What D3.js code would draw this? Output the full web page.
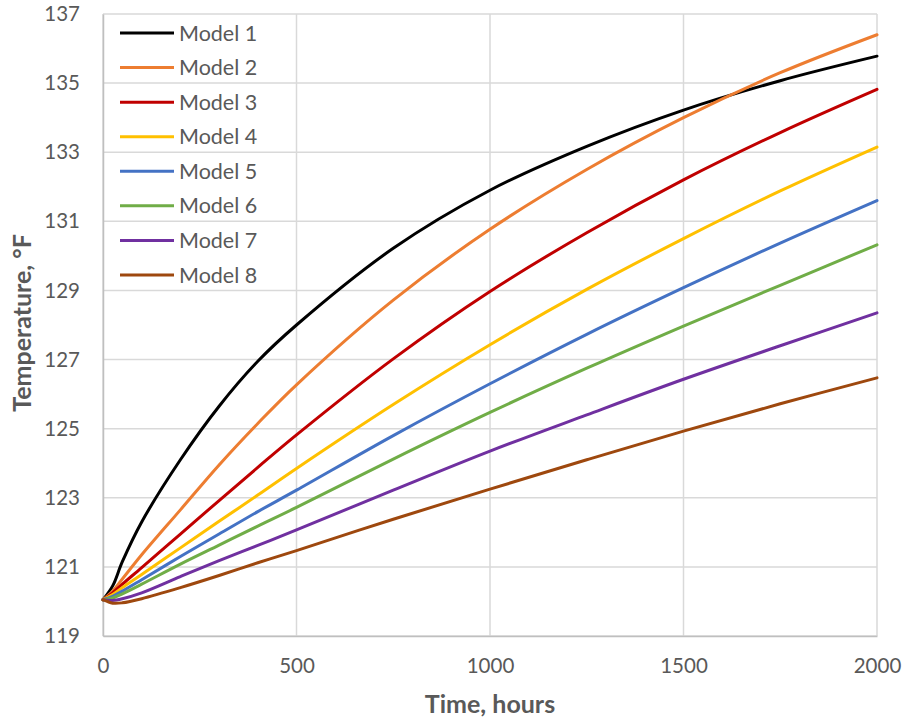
<!DOCTYPE html>
<html>
<head>
<meta charset="utf-8">
<script src="https://cdn.jsdelivr.net/npm/d3@7"></script>
<style>
  body { margin: 0; background: #fff; }
  svg text { font-family: Lato, "Open Sans", sans-serif; fill: #595959; }
</style>
</head>
<body>
<svg id="chart" width="904" height="721"></svg>
<script>
// hours since start
const hours = [0, 25, 50, 100, 200, 300, 400, 500, 750, 1000, 1250, 1500, 1750, 2000];

// temperature, degF, one list per model
const model1 = [120.05, 120.45, 121.15, 122.3, 124.1, 125.65, 126.95, 128.0, 130.22, 131.9, 133.17, 134.22, 135.07, 135.78];
const model2 = [120.05, 120.3, 120.65, 121.35, 122.65, 123.95, 125.15, 126.27, 128.72, 130.77, 132.5, 134.0, 135.3, 136.4];
const model3 = [120.05, 120.25, 120.5, 120.98, 121.95, 122.92, 123.88, 124.82, 127.02, 128.97, 130.67, 132.2, 133.57, 134.82];
const model4 = [120.05, 120.2, 120.4, 120.78, 121.55, 122.32, 123.08, 123.85, 125.7, 127.43, 129.03, 130.5, 131.88, 133.15];
const model5 = [120.05, 120.15, 120.3, 120.63, 121.3, 121.95, 122.6, 123.22, 124.8, 126.3, 127.73, 129.08, 130.37, 131.6];
const model6 = [120.05, 120.1, 120.22, 120.5, 121.08, 121.63, 122.18, 122.72, 124.12, 125.47, 126.75, 127.97, 129.15, 130.32];
const model7 = [120.05, 120.03, 120.08, 120.25, 120.72, 121.18, 121.62, 122.07, 123.22, 124.35, 125.4, 126.43, 127.4, 128.35];
const model8 = [120.05, 119.95, 119.96, 120.08, 120.4, 120.75, 121.12, 121.47, 122.38, 123.25, 124.1, 124.93, 125.72, 126.47];

const seriesNames = ["Model 1", "Model 2", "Model 3", "Model 4", "Model 5", "Model 6", "Model 7", "Model 8"];
const seriesValues = [model1, model2, model3, model4, model5, model6, model7, model8];
const seriesColors = ["#000000", "#ED7D31", "#C00000", "#FFC000", "#4472C4", "#70AD47", "#7030A0", "#9E480E"];

const xTicks = [0, 500, 1000, 1500, 2000];
const yTicks = [119, 121, 123, 125, 127, 129, 131, 133, 135, 137];

const margin = { top: 14, right: 27, bottom: 85, left: 103 };
const width = 904 - margin.left - margin.right;
const height = 721 - margin.top - margin.bottom;

const svg = d3.select("#chart");
const g = svg.append("g")
  .attr("transform", `translate(${margin.left},${margin.top})`);

const x = d3.scaleLinear().domain([0, 2000]).range([0, width]);
const y = d3.scaleLinear().domain([119, 137]).range([height, 0]);

// gridlines
g.append("g")
  .selectAll("line.hgrid")
  .data(yTicks)
  .join("line")
  .attr("class", "hgrid")
  .attr("x1", 0).attr("x2", width)
  .attr("y1", d => y(d)).attr("y2", d => y(d))
  .style("stroke", "#d9d9d9")
  .style("stroke-width", 1.5);

g.append("g")
  .selectAll("line.vgrid")
  .data(xTicks)
  .join("line")
  .attr("class", "vgrid")
  .attr("x1", d => x(d)).attr("x2", d => x(d))
  .attr("y1", 0).attr("y2", height)
  .style("stroke", "#d9d9d9")
  .style("stroke-width", 1.5);

// axes
const xAxis = g.append("g")
  .attr("transform", `translate(0,${height})`)
  .call(d3.axisBottom(x).tickValues(xTicks).tickFormat(d3.format("d")).tickSize(0).tickPadding(22));
const yAxis = g.append("g")
  .call(d3.axisLeft(y).tickValues(yTicks).tickSize(0).tickPadding(23));

[xAxis, yAxis].forEach(a => {
  a.select(".domain").style("stroke", "#bfbfbf").style("stroke-width", 1.5);
  a.selectAll("text")
    .style("font-size", "20.5px")
    .style("fill", "#595959");
});

// series
const line = d3.line()
  .x((d, i) => x(hours[i]))
  .y(d => y(d))
  .curve(d3.curveCatmullRom.alpha(0.5));

g.append("g")
  .selectAll("path.series")
  .data(seriesValues)
  .join("path")
  .attr("class", "series")
  .attr("d", line)
  .style("fill", "none")
  .style("stroke", (d, i) => seriesColors[i])
  .style("stroke-width", 3)
  .style("stroke-linejoin", "round")
  .style("stroke-linecap", "round");

// legend
const legendY = d3.scalePoint()
  .domain(seriesNames)
  .range([19, 261]);

const legend = g.append("g")
  .selectAll("g.item")
  .data(seriesNames)
  .join("g")
  .attr("class", "item")
  .attr("transform", d => `translate(17,${legendY(d)})`);

legend.append("line")
  .attr("x1", 0).attr("x2", 54)
  .style("stroke", (d, i) => seriesColors[i])
  .style("stroke-width", 3);

legend.append("text")
  .attr("x", 59)
  .attr("dy", "0.35em")
  .style("font-size", "21.5px")
  .text(d => d);

// axis titles
svg.append("text")
  .attr("x", margin.left + width / 2)
  .attr("y", 713)
  .attr("text-anchor", "middle")
  .style("font-size", "25px")
  .style("font-weight", "bold")
  .text("Time, hours");

svg.append("text")
  .attr("transform", `translate(31,${margin.top + height / 2 - 2}) rotate(-90)`)
  .attr("text-anchor", "middle")
  .style("font-size", "25px")
  .style("font-weight", "bold")
  .text("Temperature, °F");
</script>
</body>
</html>
